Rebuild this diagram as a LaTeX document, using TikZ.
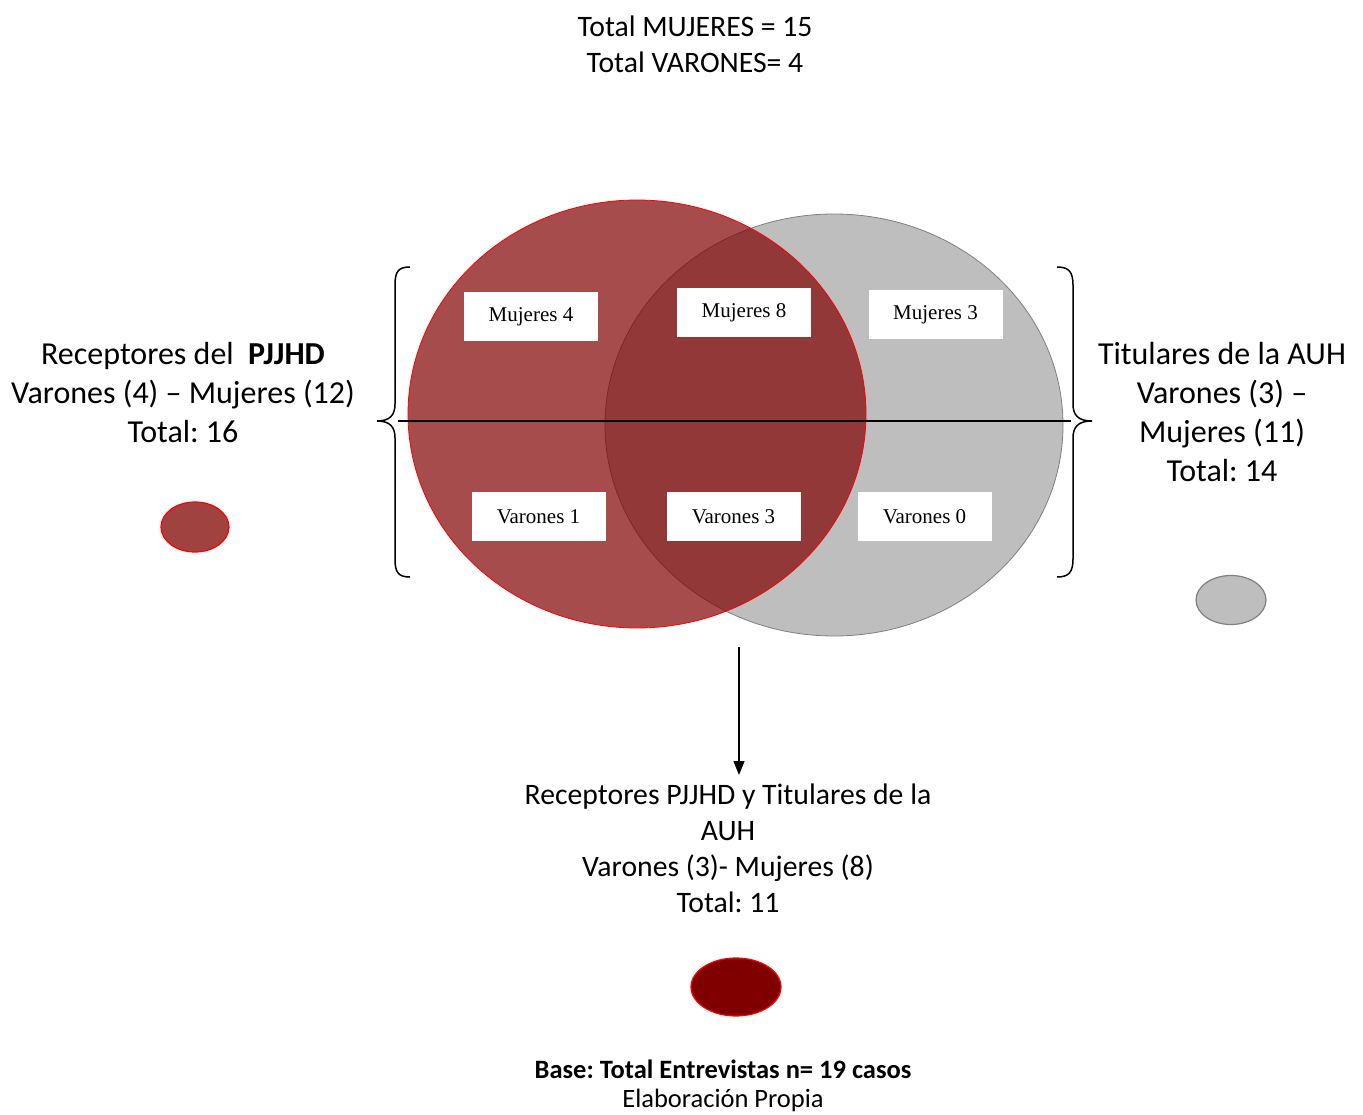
\documentclass[tikz,border=0pt]{standalone}
\usepackage{fontspec}
\setmainfont{Carlito}
\newfontfamily\boxfont{Liberation Serif}
\usetikzlibrary{arrows.meta,shapes.geometric}
\frenchspacing
\definecolor{setred}{RGB}{128,0,0}
\definecolor{setgray}{RGB}{190,190,190}
\definecolor{graystroke}{RGB}{128,128,128}
\definecolor{legred}{RGB}{160,66,64}
\tikzset{
  countbox/.style={fill=white, draw=none, minimum width=134pt, minimum height=49pt, inner sep=0pt, font=\boxfont\fontsize{21}{25}\selectfont},
  bigtext/.style={align=center, inner sep=0pt, font=\fontsize{32}{39}\selectfont},
  midtext/.style={align=center, inner sep=0pt, font=\fontsize{29.7}{36}\selectfont},
  smalltext/.style={align=center, inner sep=0pt, font=\fontsize{26.5}{29}\selectfont},
  bracepath/.style={draw=black, line width=1.5pt},
  legend/.style={ellipse, line width=1.2pt, inner sep=0pt},
}
\begin{document}
\begin{tikzpicture}[x=1pt,y=-1pt]
\useasboundingbox (0,0) rectangle (1363,1115);
% top text
\node[midtext] (top) at (695,44) {Total MUJERES = 15\\Total VARONES= 4};
% Venn circles
\path[fill=setgray, draw=graystroke, line width=0.8pt] (834,425) ellipse [x radius=229, y radius=211];
\path[fill=setred, fill opacity=0.7, draw=red, line width=0.8pt] (637,414) ellipse [x radius=229, y radius=214];
% horizontal line
\coordinate (hl) at (398,421);
\coordinate (hr) at (1071,421);
\draw[line width=1.3pt] (hl) -- (hr);
% braces
\draw[bracepath] (410,267) .. controls (398,267) and (395,272) .. (395,285)
  -- (395,404) .. controls (395,415) and (390,421) .. (377,421)
  .. controls (390,421) and (395,427) .. (395,438)
  -- (395,559) .. controls (395,572) and (398,577) .. (410,577);
\draw[bracepath] (1057,267) .. controls (1069,267) and (1073,272) .. (1073,285)
  -- (1073,404) .. controls (1073,415) and (1078,421) .. (1092,421)
  .. controls (1078,421) and (1073,427) .. (1073,438)
  -- (1073,559) .. controls (1073,572) and (1069,577) .. (1057,577);
% count boxes
\node[countbox] (m4) at (531,316.5) {Mujeres 4};
\node[countbox] (m8) at (744,312.5) {Mujeres 8};
\node[countbox] (m3) at (935.5,314.5) {Mujeres 3};
\node[countbox] (v1) at (538.5,516.5) {Varones 1};
\node[countbox] (v3) at (733.5,516.5) {Varones 3};
\node[countbox] (v0) at (924.5,516.5) {Varones 0};
% side labels
\node[bigtext] (left) at (183,393) {Receptores del\ \ \textbf{PJJHD}\\Varones (4) – Mujeres (12)\\Total: 16};
\node[bigtext] (right) at (1222,412.5) {Titulares de la AUH\\Varones (3) –\\Mujeres (11)\\Total: 14};
% legends
\node[legend, draw=red, fill=legred, minimum width=68pt, minimum height=50pt] (legL) at (195,527) {};
\node[legend, draw=graystroke, fill=setgray, minimum width=70pt, minimum height=49pt] (legR) at (1231,600) {};
% arrow and bottom text
\coordinate (arrstart) at (739,647);
\node[midtext] (bottom) at (728,848.5) {Receptores PJJHD y Titulares de la\\AUH\\Varones (3)- Mujeres (8)\\Total: 11};
\coordinate (arrend) at (739,775);
\draw[line width=1.3pt, -{Triangle[length=14pt,width=11pt]}] (arrstart) -- (arrend);
\node[legend, draw=red, fill=setred, minimum width=90pt, minimum height=58pt] (legB) at (736,987) {};
% base text
\node[smalltext] (base) at (723,1086) {\textbf{Base: Total Entrevistas n= 19 casos}\\Elaboración Propia};
\end{tikzpicture}
\end{document}
